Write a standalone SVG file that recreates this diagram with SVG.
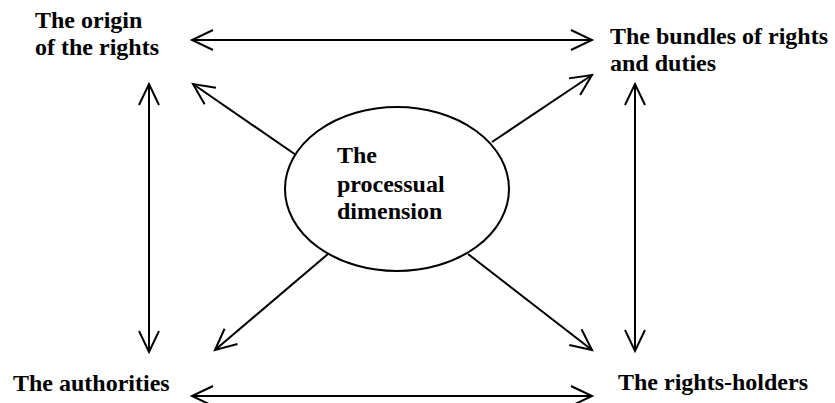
<svg xmlns="http://www.w3.org/2000/svg" width="835" height="403" viewBox="0 0 835 403">
  <style>
    .lbl { font-family: "Liberation Serif", "Times New Roman", serif; font-weight: bold; font-size: 24px; fill: #000; }
    .con { stroke: #000; stroke-width: 2; fill: none; }
    .shape { stroke: #000; stroke-width: 2; fill: #fff; }
  </style>
  <defs>
    <marker id="arr" markerUnits="userSpaceOnUse" viewBox="-25 -15 30 30" refX="0" refY="0" markerWidth="30" markerHeight="30" orient="auto-start-reverse" overflow="visible">
      <path d="M-21,-10 L0,0 L-21,10" fill="none" stroke="#000" stroke-width="2" stroke-linejoin="miter"/>
    </marker>
  </defs>
  <rect width="835" height="403" fill="#fff"/>

  <g id="connectors">
    <line class="con" x1="192" y1="40" x2="592" y2="40" marker-start="url(#arr)" marker-end="url(#arr)"/>
    <line class="con" x1="192" y1="396" x2="592" y2="396" marker-start="url(#arr)" marker-end="url(#arr)"/>
    <line class="con" x1="149" y1="84" x2="149" y2="352" marker-start="url(#arr)" marker-end="url(#arr)"/>
    <line class="con" x1="635" y1="84" x2="635" y2="351" marker-start="url(#arr)" marker-end="url(#arr)"/>
    <line class="con" x1="296" y1="155" x2="193" y2="84" marker-end="url(#arr)"/>
    <line class="con" x1="492" y1="142" x2="592" y2="75" marker-end="url(#arr)"/>
    <line class="con" x1="328" y1="254" x2="215" y2="350" marker-end="url(#arr)"/>
    <line class="con" x1="468" y1="254" x2="592" y2="350" marker-end="url(#arr)"/>
  </g>

  <g id="processual">
    <ellipse class="shape" cx="397" cy="189" rx="112" ry="82"/>
    <text class="lbl" x="337" y="163">The</text>
    <text class="lbl" x="337" y="192">processual</text>
    <text class="lbl" x="337" y="219">dimension</text>
  </g>

  <g id="origin">
    <text class="lbl" x="35" y="28">The origin</text>
    <text class="lbl" x="35" y="55">of the rights</text>
  </g>

  <g id="bundles">
    <text class="lbl" x="610" y="44">The bundles of rights</text>
    <text class="lbl" x="610" y="71">and duties</text>
  </g>

  <g id="authorities">
    <text class="lbl" x="13" y="391">The authorities</text>
  </g>

  <g id="holders">
    <text class="lbl" x="618" y="390">The rights-holders</text>
  </g>
</svg>
